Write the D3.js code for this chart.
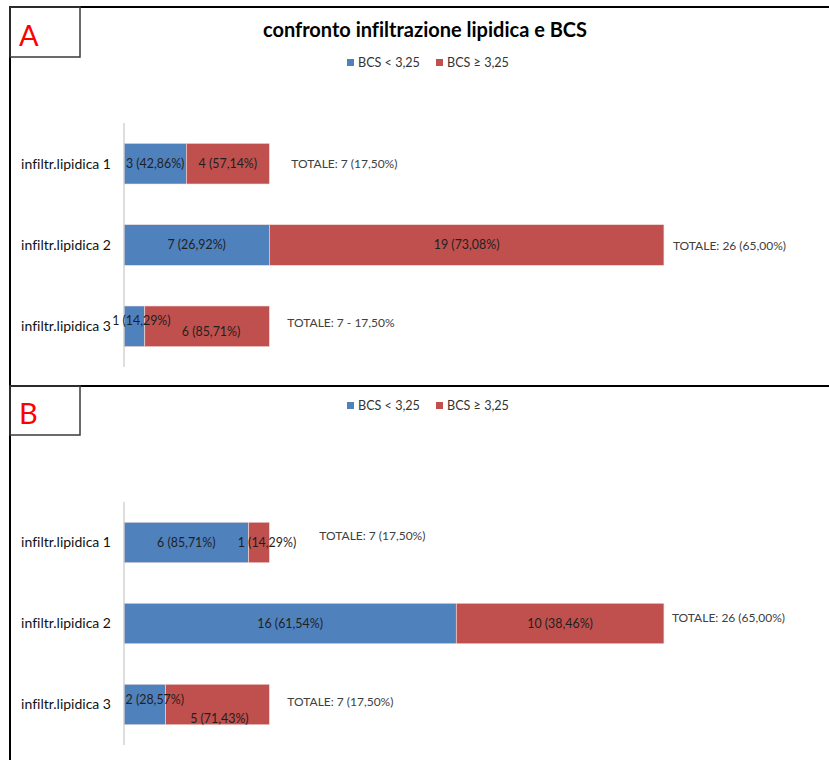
<!DOCTYPE html>
<html lang="it">
<head>
  <meta charset="UTF-8">
  <title>confronto infiltrazione lipidica e BCS</title>
  <script src="https://d3js.org/d3.v7.min.js"></script>
  <style>
    body { margin: 0; background: #fff; }
    svg text { font-family: Lato, "Open Sans", sans-serif; font-variant-ligatures: none; }
  </style>
</head>
<body>
  <div id="chart"></div>
  <script>
    const width = 829, height = 760;

    // data
    const categories = ["infiltr.lipidica 1", "infiltr.lipidica 2", "infiltr.lipidica 3"];
    const seriesNames = ["BCS < 3,25", "BCS \u2265 3,25"];
    const lowA = [3, 7, 1];
    const highA = [4, 19, 6];
    const lowB = [6, 16, 2];
    const highB = [1, 10, 5];
    const totalLabelsA = ["TOTALE: 7 (17,50%)", "TOTALE: 26 (65,00%)", "TOTALE: 7 - 17,50%"];
    const totalLabelsB = ["TOTALE: 7 (17,50%)", "TOTALE: 26 (65,00%)", "TOTALE: 7 (17,50%)"];

    const colors = ["#4F81BD", "#C0504D"];
    const pct = v => d3.format(".2f")(v * 100).replace(".", ",") + "%";

    const svg = d3.select("#chart").append("svg")
        .attr("width", width)
        .attr("height", height);

    // frame
    svg.append("line").attr("x1", 9).attr("x2", width).attr("y1", 7).attr("y2", 7)
        .attr("stroke", "#000").attr("stroke-width", 2);
    svg.append("line").attr("x1", 10).attr("x2", 10).attr("y1", 6).attr("y2", height)
        .attr("stroke", "#000").attr("stroke-width", 2);
    svg.append("line").attr("x1", 9).attr("x2", width).attr("y1", 386).attr("y2", 386)
        .attr("stroke", "#000").attr("stroke-width", 2);

    svg.append("text")
        .attr("x", 425).attr("y", 37)
        .attr("text-anchor", "middle")
        .attr("font-size", 20).attr("font-weight", "bold")
        .attr("fill", "#000")
        .text("confronto infiltrazione lipidica e BCS");

    const x = d3.scaleLinear().domain([0, 30]).range([124, 747]);

    // label nudges for crowded segments [dx, dy], as moved in the original
    const nudgeA = { low: [[0, 0], [0, 0], [7, -6]], high: [[0, 0], [0, 0], [4, 5]],
                     total: [[22, 0], [9, 1], [18, -4]] };
    const nudgeB = { low: [[0, 0], [0, 0], [10, -5]], high: [[8, 0], [0, 0], [2, 14]],
                     total: [[50, -7], [8, -6], [18, -3]] };

    function panel(cfg) {
      const g = svg.append("g");

      // label box
      g.append("rect")
          .attr("x", 10).attr("y", cfg.boxY)
          .attr("width", 70).attr("height", cfg.boxH)
          .attr("fill", "none").attr("stroke", "#3a3a3a").attr("stroke-width", 1.5);
      g.append("text")
          .attr("x", 19).attr("y", cfg.boxY + cfg.boxH - 11)
          .attr("font-size", 29).attr("fill", "#ff0000")
          .text(cfg.letter);

      // legend
      const legend = g.append("g").attr("transform", `translate(347, ${cfg.legendY})`);
      const offsets = [0, 89];
      seriesNames.forEach((name, i) => {
        legend.append("rect")
            .attr("x", offsets[i]).attr("y", -4)
            .attr("width", 7).attr("height", 7)
            .attr("fill", colors[i]);
        legend.append("text")
            .attr("x", offsets[i] + 11).attr("y", 4)
            .attr("font-size", 12.6).attr("fill", "#333")
            .text(name);
      });

      const y = d3.scaleBand()
          .domain(categories)
          .range(cfg.yRange)
          .paddingInner(0.5)
          .paddingOuter(0.25);

      const rows = categories.map((c, i) => ({
        cat: c, low: cfg.low[i], high: cfg.high[i], total: cfg.low[i] + cfg.high[i], i
      }));

      // segments
      const segs = [];
      rows.forEach(r => {
        segs.push({ r, s: 0, x0: 0, x1: r.low, v: r.low });
        segs.push({ r, s: 1, x0: r.low, x1: r.total, v: r.high });
      });

      g.append("g").selectAll("rect")
        .data(segs)
        .join("rect")
          .attr("x", d => x(d.x0))
          .attr("y", d => y(d.r.cat))
          .attr("width", d => x(d.x1) - x(d.x0))
          .attr("height", y.bandwidth())
          .attr("fill", d => colors[d.s])
          .attr("stroke", "#f2dcdb").attr("stroke-width", 0.6);

      // vertical axis line
      g.append("line")
          .attr("x1", x(0)).attr("x2", x(0))
          .attr("y1", cfg.yRange[0]).attr("y2", cfg.yRange[1])
          .attr("stroke", "#c8c8c8").attr("stroke-width", 1.2);

      // category labels
      g.append("g").selectAll("text")
        .data(rows)
        .join("text")
          .attr("x", 111)
          .attr("y", d => y(d.cat) + y.bandwidth() / 2)
          .attr("dy", "0.35em")
          .attr("text-anchor", "end")
          .attr("font-size", 14).attr("fill", "#111")
          .text(d => d.cat);

      // data labels
      g.append("g").selectAll("text")
        .data(segs)
        .join("text")
          .attr("x", d => (x(d.x0) + x(d.x1)) / 2 + cfg.nudge[d.s ? "high" : "low"][d.r.i][0])
          .attr("y", d => y(d.r.cat) + y.bandwidth() / 2 + cfg.nudge[d.s ? "high" : "low"][d.r.i][1])
          .attr("dy", "0.35em")
          .attr("text-anchor", "middle")
          .attr("font-size", 12.4).attr("fill", "#1f1f1f")
          .text(d => `${d.v} (${pct(d.v / d.r.total)})`);

      // totals
      g.append("g").selectAll("text")
        .data(rows)
        .join("text")
          .attr("x", d => x(d.total) + cfg.nudge.total[d.i][0])
          .attr("y", d => y(d.cat) + y.bandwidth() / 2 + cfg.nudge.total[d.i][1])
          .attr("dy", "0.35em")
          .attr("font-size", 12).attr("fill", "#404040")
          .text((d, i) => cfg.totals[i]);
    }

    panel({ letter: "A", boxY: 7, boxH: 50, legendY: 63, yRange: [123, 367],
            low: lowA, high: highA, totals: totalLabelsA, nudge: nudgeA });
    panel({ letter: "B", boxY: 386, boxH: 49, legendY: 406, yRange: [502, 745],
            low: lowB, high: highB, totals: totalLabelsB, nudge: nudgeB });
  </script>
</body>
</html>
